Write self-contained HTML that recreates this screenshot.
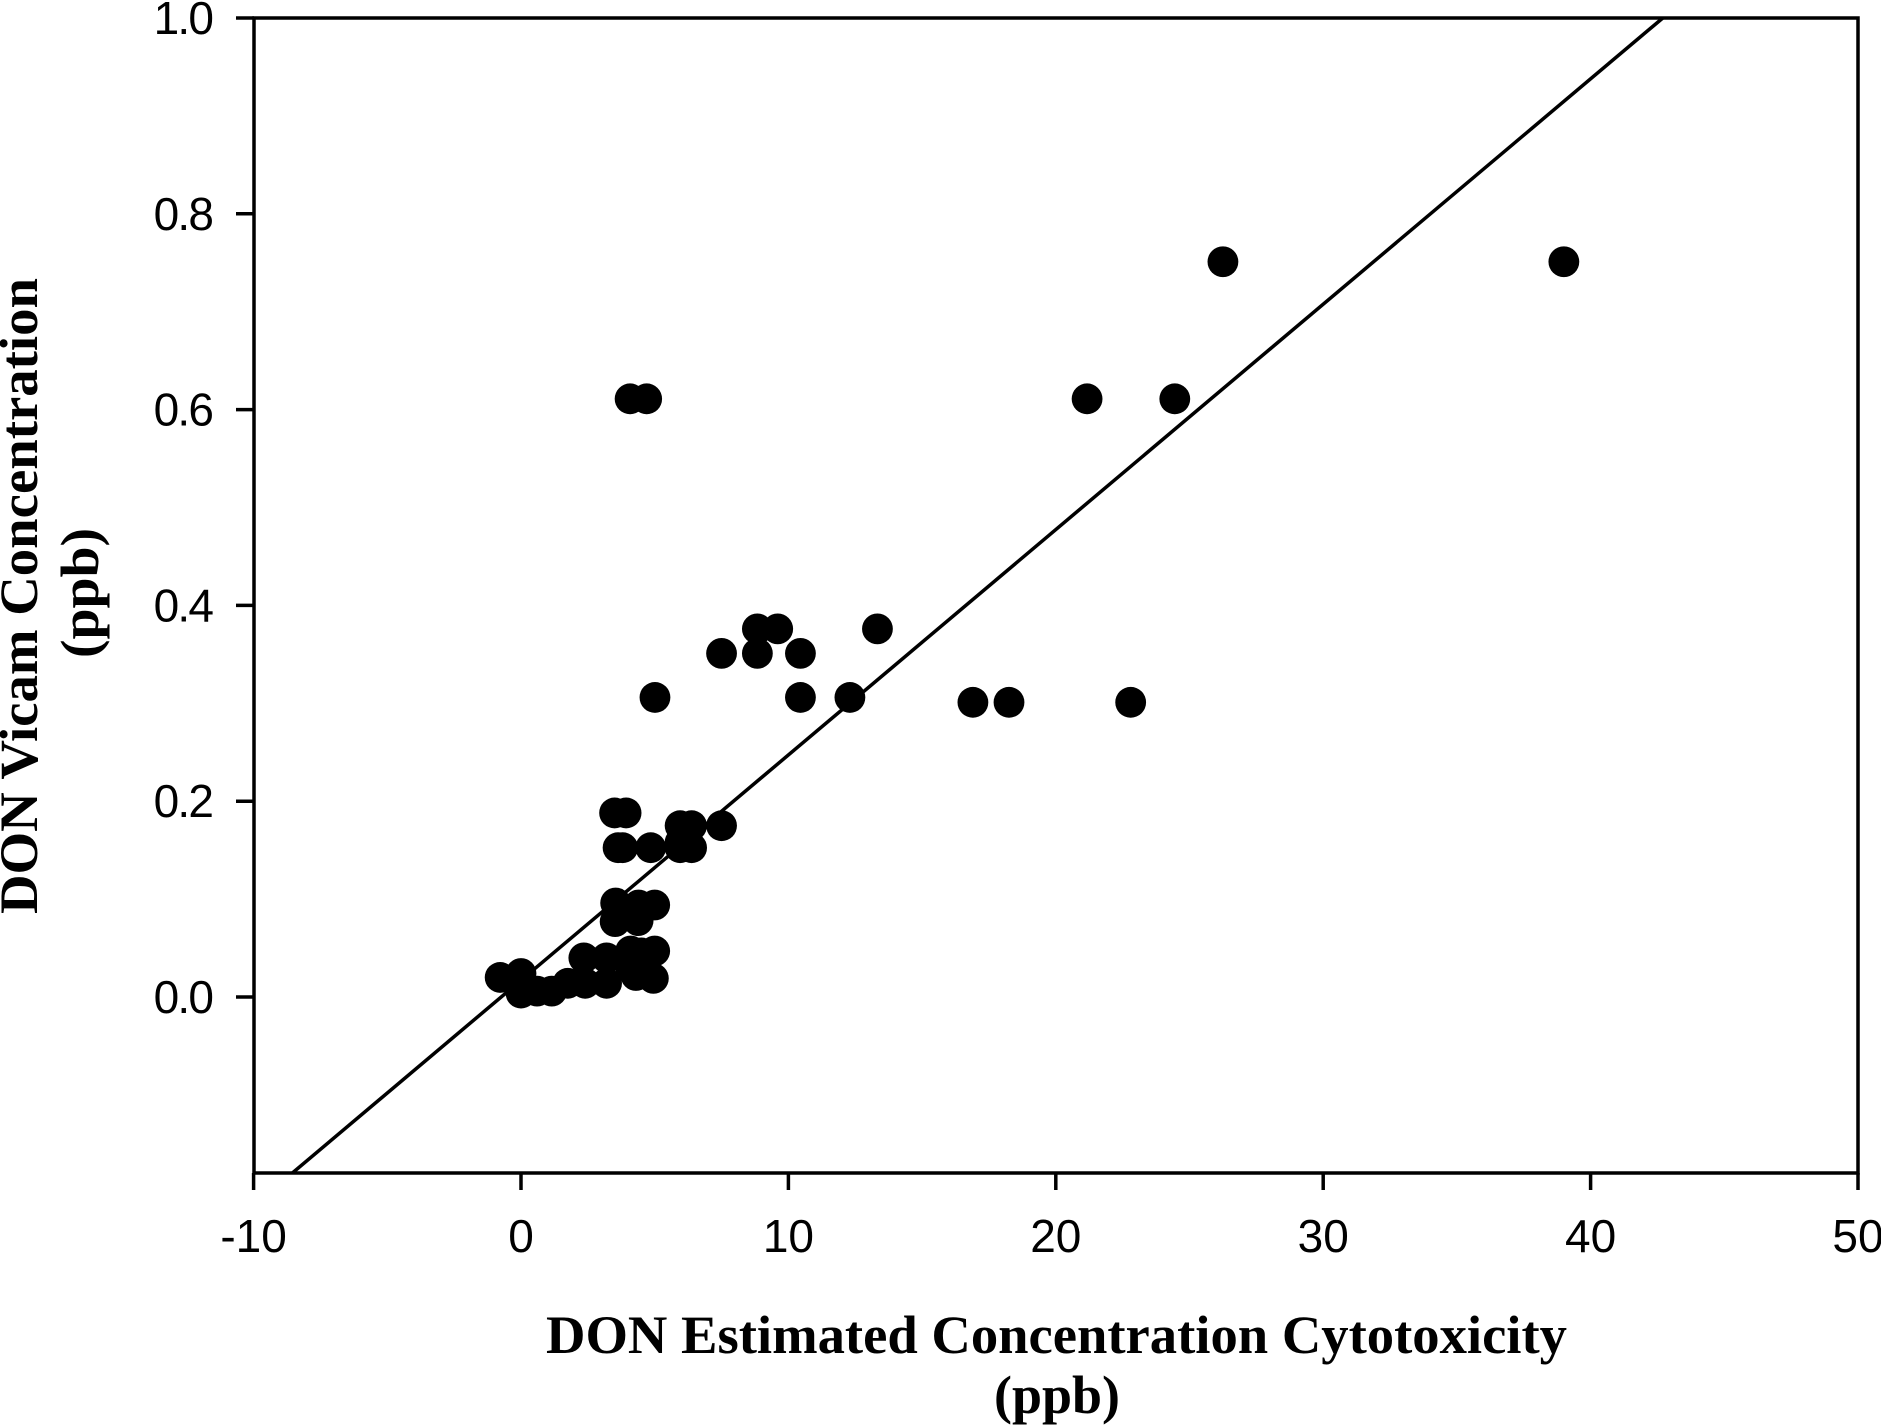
<!DOCTYPE html>
<html>
<head>
<meta charset="utf-8">
<title>DON Vicam vs Cytotoxicity</title>
<style>
html,body{margin:0;padding:0;background:#fff;}
svg{display:block;}
.tick{font-family:"Liberation Sans",sans-serif;font-size:46px;fill:#000;}
.ytick{letter-spacing:-1.8px;}
.title{font-family:"Liberation Serif",serif;font-weight:bold;font-size:54px;fill:#000;}
</style>
</head>
<body>
<svg id="chart" xmlns="http://www.w3.org/2000/svg" width="1881" height="1427" viewBox="0 0 1881 1427">
<defs><clipPath id="plot-clip"><rect x="254" y="18" width="1604" height="1155"></rect></clipPath></defs>
<rect x="0" y="0" width="1881" height="1427" fill="#fff"></rect>
<rect x="254" y="18" width="1604" height="1155" fill="none" stroke="#000" stroke-width="3.5"></rect>
<g id="fit" clip-path="url(#plot-clip)"></g>
<g id="points"></g>
<g id="xticks"></g>
<g id="yticks"></g>
<text class="title" x="546" y="1353" textLength="1021" lengthAdjust="spacingAndGlyphs">DON Estimated Concentration Cytotoxicity</text>
<text class="title" x="994" y="1413" textLength="126" lengthAdjust="spacingAndGlyphs">(ppb)</text>
<text class="title" transform="translate(37 914) rotate(-90)" x="0" y="0" textLength="636" lengthAdjust="spacingAndGlyphs">DON Vicam Concentration</text>
<text class="title" transform="translate(98 658) rotate(-90)" x="0" y="0" textLength="130" lengthAdjust="spacingAndGlyphs">(ppb)</text>
</svg>
<script>
const xTickValues = [-10, 0, 10, 20, 30, 40, 50];
const yTickValues = [0, 0.2, 0.4, 0.6, 0.8, 1.0];
const yTickLabels = ['0.0', '0.2', '0.4', '0.6', '0.8', '1.0'];
const pointX = [-0.78, 0, 0, 0.6, 1.15, 1.75, 2.4, 3.2, 2.35, 3.2, 4.3, 4.95, 4.1, 4.5, 5.0, 3.52, 4.38, 3.54, 4.4, 5.0, 4.1, 4.65, 3.63, 3.8, 4.85, 5.95, 6.38, 5.95, 3.5, 3.93, 5.95, 6.38, 7.5, 5.01, 10.45, 12.3, 7.5, 8.84, 10.45, 8.84, 9.6, 13.33, 16.9, 18.25, 22.8, 4.08, 4.7, 21.17, 24.45, 26.25, 39.0];
const pointY = [0.02, 0.024, 0.004, 0.006, 0.006, 0.014, 0.014, 0.014, 0.04, 0.04, 0.022, 0.019, 0.047, 0.045, 0.047, 0.077, 0.078, 0.096, 0.094, 0.094, 0.03, 0.03, 0.1525, 0.1525, 0.1525, 0.1525, 0.1525, 0.158, 0.188, 0.188, 0.175, 0.175, 0.175, 0.306, 0.306, 0.306, 0.351, 0.351, 0.351, 0.376, 0.376, 0.376, 0.301, 0.301, 0.301, 0.611, 0.611, 0.611, 0.611, 0.751, 0.751];
const lineX = [-8.56, 42.7];
const lineY = [-0.18, 1.0];

const NS = 'http://www.w3.org/2000/svg';
function sx(v) { return 521 + (v * 26.74); }
function sy(v) { return 997 - (v * 979); }
function make(tag, attrs, parent) {
  const el = document.createElementNS(NS, tag);
  for (const k in attrs) el.setAttribute(k, attrs[k]);
  parent.appendChild(el);
  return el;
}

const fitGroup = document.getElementById('fit');
const fitLine = make('line', {x1: sx(lineX[0]), y1: sy(lineY[0]), x2: sx(lineX[1]), y2: sy(lineY[1]), stroke: '#000', 'stroke-width': 3.5}, fitGroup);



const pointGroup = document.getElementById('points');
pointX.forEach(function (x, i) {
  const c = make('circle', {cx: sx(x), cy: sy(pointY[i]), r: 15.4, fill: '#000'}, pointGroup);
  
  
});

const xTickGroup = document.getElementById('xticks');
xTickValues.forEach(function (v) {
  const t = make('line', {x1: sx(v), y1: 1173, x2: sx(v), y2: 1190, stroke: '#000', 'stroke-width': 3.5}, xTickGroup);
  
  
  const l = make('text', {x: sx(v), y: 1252, 'text-anchor': 'middle', class: 'tick'}, xTickGroup);
  
  
  l.textContent = String(v);
});

const yTickGroup = document.getElementById('yticks');
yTickValues.forEach(function (v, i) {
  const t = make('line', {x1: 236, y1: sy(v), x2: 254, y2: sy(v), stroke: '#000', 'stroke-width': 3.5}, yTickGroup);
  
  
  const l = make('text', {x: 212.2, y: sy(v) + 16, 'text-anchor': 'end', class: 'tick ytick'}, yTickGroup);
  
  
  l.textContent = yTickLabels[i];
});
</script>
</body>
</html>
